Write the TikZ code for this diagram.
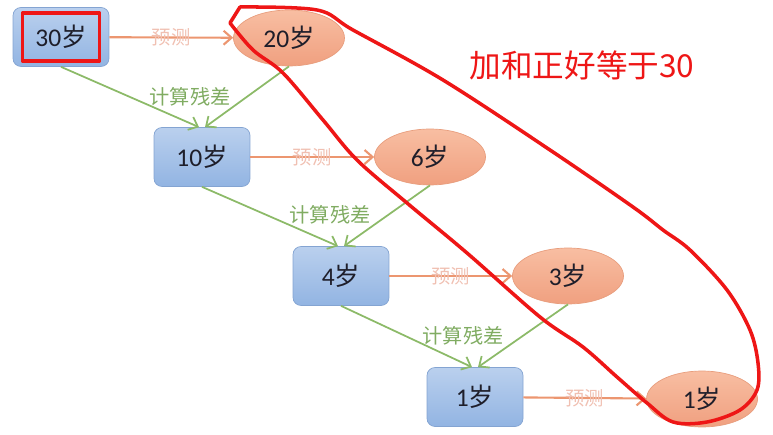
\documentclass[tikz,border=0pt]{standalone}
\usepackage{fontspec}
\setmainfont{Carlito}
\newfontfamily\cjk{Noto Sans CJK SC}
\usepackage{tikz}
\usetikzlibrary{arrows.meta, shapes.geometric}
\usepackage{xcolor}
\definecolor{boxtop}{RGB}{186,208,238}
\definecolor{boxbot}{RGB}{146,180,226}
\definecolor{boxline}{RGB}{132,164,210}
\definecolor{elltop}{RGB}{248,190,162}
\definecolor{ellbot}{RGB}{240,160,128}
\definecolor{ellline}{RGB}{232,158,126}
\definecolor{predorange}{RGB}{236,150,112}
\definecolor{predpink}{RGB}{240,192,178}
\definecolor{residgreen}{RGB}{140,186,104}
\definecolor{residtext}{RGB}{128,172,98}
\definecolor{agetext}{RGB}{30,30,42}
\definecolor{penred}{RGB}{238,22,22}
\tikzset{
    agebox/.style={draw=boxline, rounded corners=1.6mm, top color=boxtop, bottom color=boxbot, minimum width=1.92cm, minimum height=1.18cm, text=agetext, font=\fontsize{14.5}{16}\selectfont},
    guessnode/.style={ellipse, draw=ellline, top color=elltop, bottom color=ellbot, minimum width=2.22cm, minimum height=1.12cm, inner sep=0pt, text=agetext, font=\fontsize{14.5}{16}\selectfont},
    predarrow/.style={-{Straight Barb[length=1.6mm,width=2.8mm]}, line width=1.2pt, draw=predorange},
    residarrow/.style={-{Straight Barb[length=1.6mm,width=2.8mm]}, line width=1pt, draw=residgreen},
    predlabel/.style={font=\cjk\fontsize{11}{12}\selectfont, text=predpink},
    residlabel/.style={font=\cjk\fontsize{11.5}{12}\selectfont, text=residtext},
    penmark/.style={draw=penred, line width=2pt, line cap=round, line join=round}
}
\begin{document}
\begin{tikzpicture}[x=0.02cm,y=-0.02cm]
    \useasboundingbox (0,0) rectangle (773,435);
    % residual targets
    \node[agebox] (t1) at (61,37) {30{\cjk 岁}};
    \node[agebox] (t2) at (202,157) {10{\cjk 岁}};
    \node[agebox] (t3) at (341,276) {4{\cjk 岁}};
    \node[agebox] (t4) at (475,397) {1{\cjk 岁}};
    % predictions
    \node[guessnode] (p1) at (289,38) {20{\cjk 岁}};
    \node[guessnode] (p2) at (430,157) {6{\cjk 岁}};
    \node[guessnode] (p3) at (568,276) {3{\cjk 岁}};
    \node[guessnode] (p4) at (702,399) {1{\cjk 岁}};
    \draw[predarrow] (t1) -- (p1) node[midway,predlabel] {预测};
    \draw[predarrow] (t2) -- (p2) node[midway,predlabel] {预测};
    \draw[predarrow] (t3) -- (p3) node[midway,predlabel] {预测};
    \draw[predarrow] (t4) -- (p4) node[midway,predlabel] {预测};
    \draw[residarrow] (t1.south) -- ([xshift=-0.06cm]t2.north);
    \draw[residarrow] (p1.south) -- ([xshift=0.06cm]t2.north);
    \draw[residarrow] (t2.south) -- ([xshift=-0.06cm]t3.north);
    \draw[residarrow] (p2.south) -- ([xshift=0.06cm]t3.north);
    \draw[residarrow] (t3.south) -- ([xshift=-0.06cm]t4.north);
    \draw[residarrow] (p3.south) -- ([xshift=0.06cm]t4.north);
    \node[residlabel] (r1) at (190,97) {计算残差};
    \node[residlabel] (r2) at (330,215) {计算残差};
    \node[residlabel] (r3) at (463,336) {计算残差};
    % hand annotation
    \node[penmark, minimum width=1.54cm, minimum height=0.96cm, inner sep=0pt] (mark) at (t1) {};
    \draw[penmark] plot[smooth, tension=0.55] coordinates {(240,7) (317,10) (353,30) (443,80) (550,150) (633,207) (663,230) (690,250) (727,290) (750,330) (758,363) (757,390) (740,410) (707,422) (673,422) (647,403) (617,377) (583,347) (540,317) (467,253) (407,203) (357,160) (323,120) (283,73) (253,50) (230,23)} -- (240,7);
    \node[text=penred, font=\cjk\fontsize{18}{20}\selectfont] (sumnote) at (582,65) {加和正好等于30};
\end{tikzpicture}
\end{document}
